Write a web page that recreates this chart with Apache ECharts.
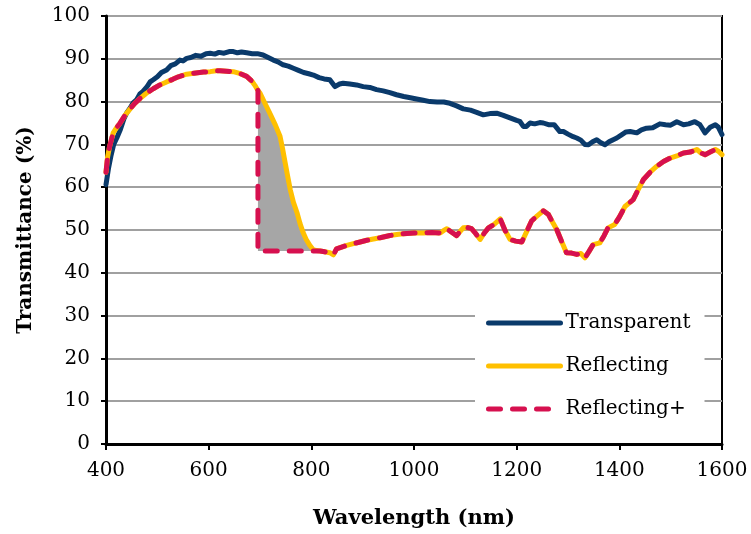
<!DOCTYPE html>
<html>
<head>
<meta charset="utf-8">
<script src="https://cdn.jsdelivr.net/npm/echarts@6/dist/echarts.min.js"></script>
<style>
html,body{margin:0;padding:0;background:#fff;}
#chart{width:751px;height:534px;}
</style>
</head>
<body>
<div id="chart"></div>
<script>
// ---- Data (wavelength nm, transmittance %) ----
const transWl = [400,405,410,415,421,428,435,440,447,453,460,466,472,480,486,492,500,508,518,526,535,544,550,557,565,575,585,595,603,612,620,630,640,648,656,664,674,685,695,706,716,726,735,745,755,765,775,785,795,804,815,825,836,846,855,862,875,888,901,914,927,940,953,966,980,993,1005,1018,1031,1045,1058,1070,1083,1096,1110,1122,1135,1148,1161,1174,1187,1200,1206,1213,1219,1226,1235,1245,1252,1262,1273,1284,1291,1300,1310,1317,1325,1333,1340,1348,1356,1364,1372,1380,1388,1395,1405,1413,1421,1434,1443,1453,1465,1479,1490,1500,1512,1525,1535,1547,1557,1567,1577,1587,1593,1600];
const transT  = [60.6,64.5,67.5,70,71.5,73.5,76,77.3,78.5,79.7,80.5,81.8,82.4,83.5,84.6,85.1,85.8,86.8,87.4,88.4,88.8,89.7,89.5,90.1,90.3,90.8,90.6,91.2,91.3,91.1,91.5,91.3,91.7,91.7,91.4,91.6,91.4,91.2,91.2,90.9,90.3,89.7,89.3,88.6,88.3,87.8,87.3,86.8,86.5,86.2,85.6,85.3,85.1,83.5,84.1,84.3,84.1,83.9,83.5,83.3,82.8,82.5,82.1,81.6,81.2,80.9,80.6,80.3,80.0,79.9,79.9,79.6,79.0,78.3,78.0,77.5,76.9,77.2,77.3,76.8,76.2,75.6,75.4,74.2,74.2,75.0,74.8,75.1,75.0,74.6,74.6,73.0,73.0,72.4,71.8,71.5,71.0,70.0,69.9,70.6,71.1,70.4,69.9,70.6,71.1,71.5,72.3,72.9,73.0,72.7,73.4,73.8,73.9,74.8,74.6,74.5,75.3,74.6,74.8,75.3,74.6,72.7,74.0,74.6,74.0,72.3];

// shared by Reflecting and Reflecting+ (short wavelengths)
const reflLeftWl = [400,403,407,414,420,427,437,447,456,466,478,492,505,518,530,541,557,575,590,603,615,622,635,648,660,674,684,690,696];
const reflLeftT  = [63.5,67,69.5,72.7,73.8,74.9,76.8,78.3,79.6,80.7,81.9,83.0,83.9,84.6,85.2,85.8,86.4,86.7,86.9,87.0,87.2,87.2,87.1,87.0,86.6,85.9,84.8,83.8,82.6];

// Reflecting edge (gradual drop)
const dropWl = [700,710,719,730,739,744,749,754,759,765,772,778,784,790,797,803,810];
const dropT  = [82.0,79.5,77.3,74.5,71.9,69.0,65.7,62.5,59.4,56.5,54.1,51.5,49.4,47.8,46.4,45.5,45.2];

// Reflecting+ edge (step)
const stepWl = [696,817];
const stepT  = [45.1,45.1];

// shared by Reflecting and Reflecting+ (long wavelengths)
const reflRightWl = [817,826,836,843,849,859,869,882,895,908,921,934,953,970,986,1000,1018,1035,1051,1058,1064,1072,1083,1090,1096,1104,1112,1120,1129,1137,1145,1156,1168,1177,1187,1198,1210,1219,1229,1240,1252,1262,1270,1278,1287,1297,1307,1317,1325,1333,1341,1349,1362,1370,1378,1391,1400,1411,1427,1437,1447,1460,1473,1486,1499,1512,1525,1538,1551,1559,1567,1577,1587,1593,1600];
const reflRightT  = [45.1,44.9,44.7,44.2,45.6,46.0,46.4,46.8,47.2,47.6,47.9,48.2,48.7,49.0,49.2,49.3,49.3,49.4,49.3,49.9,50.3,49.6,48.7,49.7,50.5,50.6,50.3,49.2,47.8,49.3,50.5,51.3,52.6,50.0,47.8,47.4,47.2,49.5,52.1,53.3,54.5,53.6,51.8,50.1,47.5,44.7,44.6,44.3,44.5,43.5,45.0,46.6,47.0,48.6,50.5,51.3,53.0,55.5,57.1,59.5,61.8,63.5,64.9,66.0,66.8,67.3,68.0,68.2,68.8,68.0,67.6,68.2,68.8,68.4,67.6];

const seriesNames = ['Transparent','Reflecting','Reflecting+'];
const xTicks = {min:400, max:1600, interval:200};
const yTicks = {min:0, max:100, interval:10};

// ---- build series data ----
const zip = (xs, ys) => xs.map((x,i)=>[x, ys[i]]);
const transData = zip(transWl, transT);
const reflData = zip(reflLeftWl, reflLeftT).concat(zip(dropWl, dropT), zip(reflRightWl, reflRightT));
const plusData = zip(reflLeftWl, reflLeftT).concat(zip(stepWl, stepT), zip(reflRightWl, reflRightT).slice(1));
const shadeData = [[reflLeftWl[reflLeftWl.length-1], reflLeftT[reflLeftT.length-1]]].concat(zip(dropWl, dropT), [[stepWl[1], stepT[1]]]);

const FONT = 'DejaVu Serif';
const chart = echarts.init(document.getElementById('chart'), null, {renderer:'canvas'});
chart.setOption({
  animation:false,
  backgroundColor:'#fff',
  grid:{left:106, right:29, top:16, bottom:89, show:true, borderColor:'#000', borderWidth:2, backgroundColor:'transparent'},
  xAxis:{
    type:'value', min:xTicks.min, max:xTicks.max, interval:xTicks.interval,
    name:'Wavelength (nm)', nameLocation:'middle', nameGap:64,
    nameTextStyle:{fontFamily:FONT, fontWeight:'bold', fontSize:21, color:'#000'},
    axisLine:{show:true, onZero:false, lineStyle:{color:'#000', width:3}},
    axisTick:{show:true, length:6, lineStyle:{color:'#000', width:2}},
    axisLabel:{fontFamily:FONT, fontSize:20, color:'#000', margin:17, formatter:(v)=>String(v)},
    splitLine:{show:false}
  },
  yAxis:{
    type:'value', min:yTicks.min, max:yTicks.max, interval:yTicks.interval,
    name:'Transmittance (%)', nameLocation:'middle', nameGap:70,
    nameTextStyle:{fontFamily:FONT, fontWeight:'bold', fontSize:20, color:'#000'},
    axisLine:{show:true, lineStyle:{color:'#000', width:3}},
    axisTick:{show:true, length:5, lineStyle:{color:'#000', width:2}},
    axisLabel:{fontFamily:FONT, fontSize:20, color:'#000', margin:16},
    splitLine:{show:true, lineStyle:{color:'#a0a0a0', width:2}}
  },
  legend:{
    data:seriesNames,
    orient:'vertical', left:475, top:299,
    padding:[14,14,12,11],
    backgroundColor:'#fff',
    itemWidth:72, itemHeight:14, itemGap:23,
    itemStyle:{color:'rgba(0,0,0,0)', borderWidth:0, opacity:0},
    lineStyle:{width:5, cap:'round'},
    textStyle:{fontFamily:FONT, fontSize:20, color:'#000'}
  },
  series:[
    {name:'shade', type:'line', data:shadeData, symbol:'none', silent:true,
     lineStyle:{width:0}, areaStyle:{color:'#a6a6a6', opacity:1, origin:45.1}, z:1},
    {name:'Transparent', type:'line', data:transData, symbol:'none', smooth:false,
     lineStyle:{color:'#0a3a6b', width:5, cap:'round', join:'round'}, itemStyle:{color:'#0a3a6b'}, z:2},
    {name:'Reflecting', type:'line', data:reflData, symbol:'none',
     lineStyle:{color:'#ffc000', width:5, cap:'round', join:'round'}, itemStyle:{color:'#ffc000'}, z:3},
    {name:'Reflecting+', type:'line', data:plusData, symbol:'none',
     lineStyle:{color:'#d6104f', width:5, type:[12,12], cap:'round', join:'round'}, itemStyle:{color:'#d6104f'}, z:4}
  ]
});
</script>
</body>
</html>
